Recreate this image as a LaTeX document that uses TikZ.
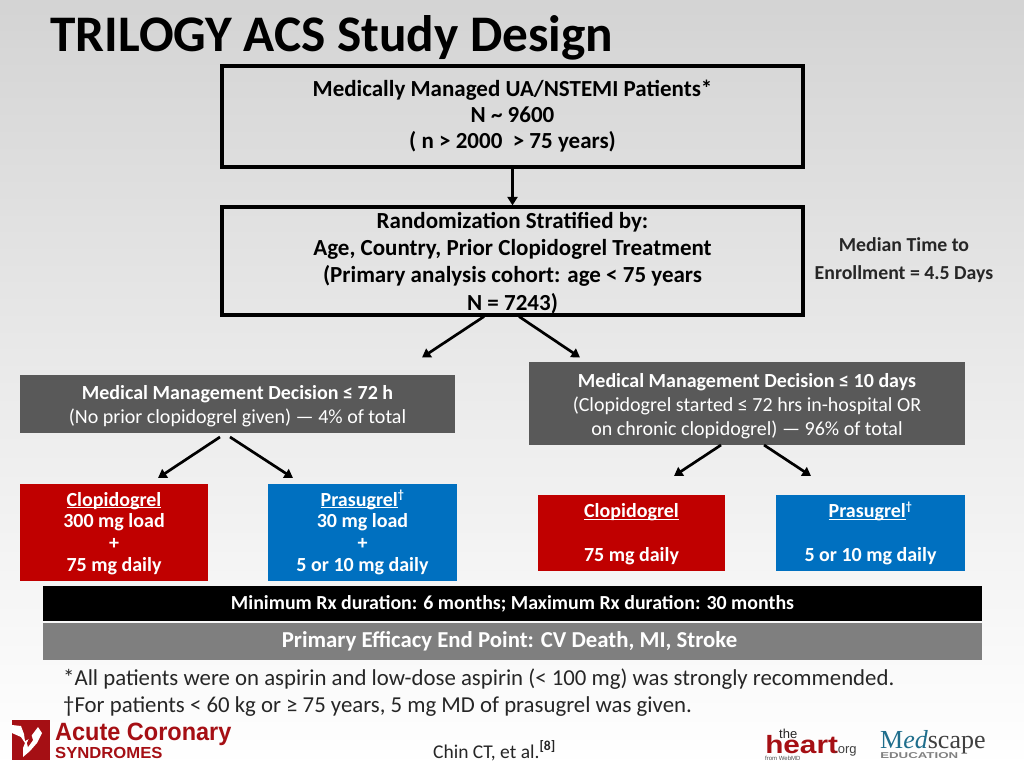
\documentclass[tikz,border=0pt]{standalone}
\usepackage{fontspec}
\setmainfont{Carlito}
\newfontfamily\helv{Liberation Sans}
\newfontfamily\tms{Liberation Serif}
\usetikzlibrary{arrows.meta}
\definecolor{redbox}{HTML}{C00000}
\definecolor{bluebox}{HTML}{0070C0}
\definecolor{darkgrey}{HTML}{595959}
\definecolor{midgrey}{HTML}{7F7F7F}
\definecolor{logored}{HTML}{A50F14}
\definecolor{bodytext}{HTML}{262626}
\definecolor{medblue}{HTML}{1F6E8C}
\tikzset{
  x=1pt,y=-1pt,
  outlinebox/.style={draw=black,line width=3.2pt,fill=none,align=center,inner sep=0pt,text=black},
  solidbox/.style={draw=none,align=center,text=white,inner sep=0pt},
  boxtext/.style={font=\fontsize{20}{21.7}\selectfont\bfseries},
  flow/.style={draw=black,line width=2.7pt,-{Triangle[length=8.5pt,width=10pt]}},
  plaintext/.style={inner sep=0pt,anchor=west,text=bodytext},
  logotext/.style={inner sep=0pt,anchor=base west},
}
\newcommand{\placebox}[7]{\node[#6,minimum width=#4-#2 pt,minimum height=#5-#3 pt] (#1) at ({(#2+#4)/2},{(#3+#5)/2}) {#7};}
\newcommand{\ulx}[1]{\rule{0pt}{16pt}\underline{\smash{#1}}}
\newcommand{\dgr}{\textsuperscript{\fontsize{12}{12}\selectfont †}}
\begin{document}
\begin{tikzpicture}
\useasboundingbox (0,0) rectangle (1024,768);
\shade[top color=black!17,bottom color=white,middle color=black!8] (0,0) rectangle (1024,768);

\node[inner sep=0pt,anchor=west,font=\fontsize{51.3}{54}\selectfont\bfseries] (title) at (50,38) {TRILOGY ACS Study Design};

\placebox{top}{222}{66}{803}{167}{outlinebox,font=\fontsize{23}{26}\selectfont\bfseries}{Medically Managed UA/NSTEMI Patients*\\N \textasciitilde{} 9600\\( n > 2000~ > 75 years)}
\placebox{rand}{222}{207}{803}{315}{outlinebox,font=\fontsize{23}{27.4}\selectfont\bfseries}{\rule{0pt}{20pt}Randomization Stratified by:\\Age, Country, Prior Clopidogrel Treatment\\(Primary analysis cohort: age < 75 years\\N = 7243)}
\node[align=center,inner sep=0pt,font=\fontsize{19.8}{27.5}\selectfont\bfseries,text=bodytext] (median) at (904,260) {Median Time to\\Enrollment = 4.5 Days};

\placebox{gl}{20}{375}{455}{433}{solidbox,fill=darkgrey,font=\fontsize{20}{24}\selectfont}{\rule{0pt}{19pt}\textbf{Medical Management Decision ≤ 72 h}\\(No prior clopidogrel given) — 4\% of total}
\placebox{gr}{529}{362}{965}{445}{solidbox,fill=darkgrey,font=\fontsize{20}{24}\selectfont}{\rule{0pt}{19.5pt}\textbf{Medical Management Decision ≤ 10 days}\\(Clopidogrel started ≤ 72 hrs in-hospital OR\\on chronic clopidogrel) — 96\% of total}

\placebox{cl}{20}{484}{208}{581}{solidbox,fill=redbox,boxtext}{\ulx{Clopidogrel}\\300 mg load\\+\\75 mg daily}
\placebox{pl}{268}{484}{457}{581}{solidbox,fill=bluebox,boxtext}{\ulx{Prasugrel}\dgr\\30 mg load\\+\\5 or 10 mg daily}
\placebox{cr}{538}{495}{725}{571}{solidbox,fill=redbox,boxtext}{\ulx{Clopidogrel}\\[21.7pt]75 mg daily}
\placebox{pr}{776}{495}{965}{571}{solidbox,fill=bluebox,boxtext}{\ulx{Prasugrel}\dgr\\[21.7pt]5 or 10 mg daily}

\placebox{dur}{43}{586}{982}{621}{solidbox,fill=black,font=\fontsize{19.9}{23}\selectfont\bfseries}{Minimum Rx duration: 6 months; Maximum Rx duration: 30 months}
\placebox{end}{43}{623}{982}{660}{solidbox,fill=midgrey,font=\fontsize{22.8}{26}\selectfont\bfseries}{Primary Efficacy End Point: CV Death, MI, Stroke\hspace{6pt}}

\coordinate (a1s) at (484,316.5); \coordinate (a1e) at (422,357.5);
\coordinate (a2s) at (519,316.5); \coordinate (a2e) at (580,357.5);
\coordinate (a3s) at (220,437);   \coordinate (a3e) at (158,478);
\coordinate (a4s) at (230,437);   \coordinate (a4e) at (293,478);
\coordinate (a5s) at (721,445);   \coordinate (a5e) at (674,476);
\coordinate (a6s) at (764,445);   \coordinate (a6e) at (811,476);
\draw[flow] (top.south) -- (rand.north);
\draw[flow] (a1s) -- (a1e);
\draw[flow] (a2s) -- (a2e);
\draw[flow] (a3s) -- (a3e);
\draw[flow] (a4s) -- (a4e);
\draw[flow] (a5s) -- (a5e);
\draw[flow] (a6s) -- (a6e);

\node[plaintext,font=\fontsize{22.8}{26}\selectfont] (note1) at (63,679) {*All patients were on aspirin and low-dose aspirin (< 100 mg) was strongly recommended.};
\node[plaintext,font=\fontsize{22.8}{26}\selectfont] (note2) at (63,706.5) {†For patients < 60 kg or ≥ 75 years, 5 mg MD of prasugrel was given.};
\node[plaintext,font=\fontsize{19.5}{22}\selectfont] (cite) at (433,751) {Chin CT, et al.\textsuperscript{\bfseries[8]}};

% Acute Coronary Syndromes logo
\fill[logored] (12,720) rectangle (50,760);
\fill[white] (12,725) -- (21,726) -- (24,734) -- (25,741) -- (29,739) -- (38,727) -- (42,733) -- (37,743) -- (30,751) -- (23,757) -- (23,748) -- (25,743) -- (21,737) -- (12,733) -- cycle;
\fill[logored] (31,734) -- (33,740) -- (28,747) -- (27,743) -- cycle;
\node[logotext,text=logored,font=\helv\fontsize{25}{26}\selectfont\bfseries,xscale=0.94] (logoa) at (55,740) {Acute Coronary};
\node[logotext,text=logored,font=\helv\fontsize{16}{17}\selectfont\bfseries,xscale=1.04] (logob) at (55,758) {SYNDROMES};

% theheart.org logo
\node[logotext,text=black!85,font=\helv\fontsize{13}{13}\selectfont] (the) at (779,738) {the};
\node[logotext,text=logored,font=\helv\fontsize{25}{25}\selectfont\bfseries,xscale=1.19] (heart) at (765,753) {heart};
\node[logotext,text=black!75,font=\helv\fontsize{13}{13}\selectfont] (org) at (834,753) {.org};
\node[logotext,text=black!70,font=\helv\fontsize{6}{6}\selectfont] (from) at (765,760) {from WebMD};

% Medscape logo
\node[logotext,font=\tms\fontsize{26}{26}\selectfont] (med) at (880,748) {\textcolor{medblue}{M}\textcolor{medblue}{\itshape ed}\textcolor{black!75}{scape}};
\node[logotext,text=black!50,font=\helv\fontsize{8.5}{9}\selectfont\bfseries,xscale=1.56] (edu) at (880,758.5) {EDUCATION};
\end{tikzpicture}
\end{document}
